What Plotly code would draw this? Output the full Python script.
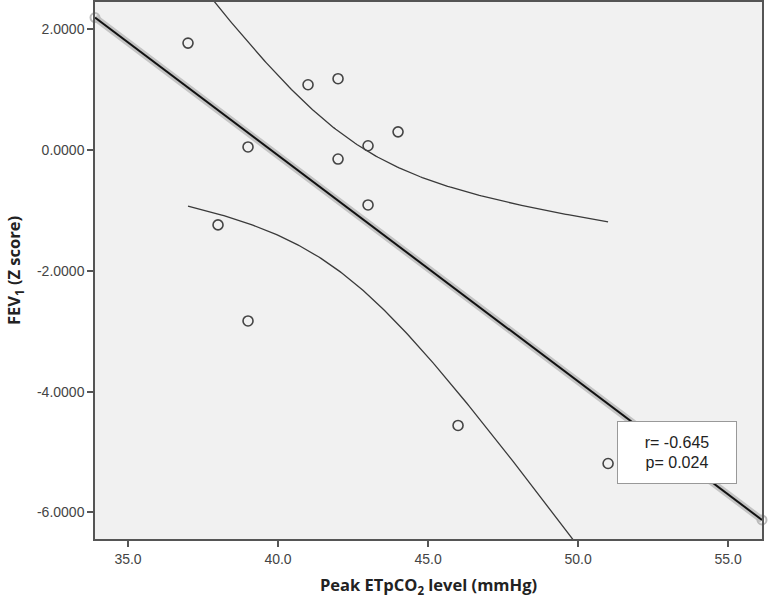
import numpy as np
import plotly.graph_objects as go

# Data
etpco2 = [37, 41, 42, 44, 43, 39, 42, 43, 38, 39, 46, 51]
fev1_z = [1.77, 1.08, 1.18, 0.30, 0.07, 0.05, -0.15, -0.91, -1.24, -2.83, -4.56, -5.19]
x_ticks = [35, 40, 45, 50, 55]
y_ticks = [2, 0, -2, -4, -6]
x_range = [33.9, 56.13]
y_range = [-6.44, 2.45]
t_crit = 2.228  # t(0.975, df=10)

x = np.array(etpco2, dtype=float)
y = np.array(fev1_z, dtype=float)
n = len(x)
slope, intercept = np.polyfit(x, y, 1)
resid = y - (slope * x + intercept)
s = np.sqrt(np.sum(resid ** 2) / (n - 2))
sxx = np.sum((x - x.mean()) ** 2)

xl = np.array(x_range)
yl = slope * xl + intercept

xc = np.linspace(x.min(), x.max(), 200)
yc = slope * xc + intercept
half = t_crit * s * np.sqrt(1 / n + (xc - x.mean()) ** 2 / sxx)

fig = go.Figure()
# confidence curves
fig.add_trace(go.Scatter(x=xc, y=yc + half, mode="lines",
                         line=dict(color="#3a3a3a", width=1.3), hoverinfo="skip"))
fig.add_trace(go.Scatter(x=xc, y=yc - half, mode="lines",
                         line=dict(color="#3a3a3a", width=1.3), hoverinfo="skip"))
# regression line halo
fig.add_trace(go.Scatter(x=xl, y=yl, mode="lines+markers",
                         line=dict(color="#c4c4c4", width=7),
                         marker=dict(symbol="circle-open", size=9, color="#bbbbbb",
                                     line=dict(width=2)),
                         hoverinfo="skip", cliponaxis=False))
fig.add_trace(go.Scatter(x=xl, y=yl, mode="lines",
                         line=dict(color="#111111", width=2), hoverinfo="skip"))
# points
fig.add_trace(go.Scatter(x=etpco2, y=fev1_z, mode="markers",
                         marker=dict(symbol="circle-open", size=10, color="#444444",
                                     line=dict(width=1.6))))

fig.add_annotation(x=0.873, y=0.161, xref="paper", yref="paper",
                   xanchor="center", yanchor="middle",
                   text="r= -0.645<br>p= 0.024", showarrow=False,
                   font=dict(family="Liberation Sans, Arial", size=16, color="#222"),
                   bgcolor="white", bordercolor="#999999", borderwidth=1,
                   width=116, height=59, align="center")

fig.update_layout(
    width=771, height=604,
    margin=dict(l=95, r=9, t=2, b=65),
    paper_bgcolor="white", plot_bgcolor="#f1f1f1",
    showlegend=False,
    font=dict(family="Liberation Sans, Arial", size=14, color="#444"),
)
fig.update_xaxes(range=x_range, tickvals=x_ticks,
                 ticktext=[f"{v:.1f}" for v in x_ticks],
                 showgrid=False, zeroline=False, automargin=False,
                 showline=True, linecolor="#555", linewidth=1.5, mirror=True,
                 ticks="outside", ticklen=6, tickwidth=1.5, tickcolor="#555",
                 title=dict(text="<b>Peak ETpCO<sub>2</sub> level (mmHg)</b>",
                            font=dict(family="Open Sans", size=16.5, color="#222"),
                            standoff=14))
fig.update_yaxes(range=y_range, tickvals=y_ticks,
                 ticktext=[f"{v:.4f}" for v in y_ticks],
                 showgrid=False, zeroline=False, automargin=False,
                 showline=True, linecolor="#555", linewidth=1.5, mirror=True,
                 ticks="outside", ticklen=6, tickwidth=1.5, tickcolor="#555",
                 title=dict(text="<b>FEV<sub>1</sub> (Z score)</b>",
                            font=dict(family="Open Sans", size=16.5, color="#222"),
                            standoff=12))

fig.write_html("out.html", config={"displayModeBar": False},
               post_script="document.body.style.margin='0';")
